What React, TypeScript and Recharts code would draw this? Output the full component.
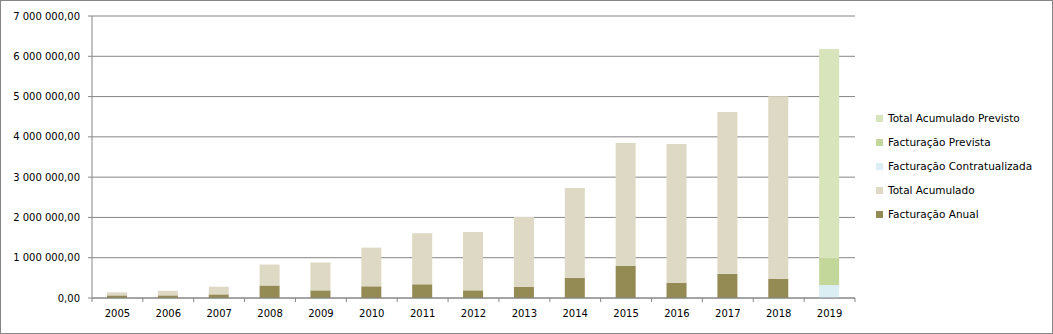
import React from 'react';
import { BarChart, Bar, XAxis, YAxis, CartesianGrid } from 'recharts';

const years = ['2005', '2006', '2007', '2008', '2009', '2010', '2011', '2012', '2013', '2014', '2015', '2016', '2017', '2018', '2019'];
const facturacaoAnual = [65000, 65000, 90000, 310000, 190000, 290000, 340000, 190000, 280000, 500000, 800000, 380000, 600000, 480000, 0];
const totalAcumulado = [75000, 115000, 190000, 520000, 690000, 960000, 1270000, 1450000, 1730000, 2230000, 3050000, 3440000, 4020000, 4530000, 0];
const facturacaoContratualizada = [0, 0, 0, 0, 0, 0, 0, 0, 0, 0, 0, 0, 0, 0, 320000];
const facturacaoPrevista = [0, 0, 0, 0, 0, 0, 0, 0, 0, 0, 0, 0, 0, 0, 670000];
const totalAcumuladoPrevisto = [0, 0, 0, 0, 0, 0, 0, 0, 0, 0, 0, 0, 0, 0, 5190000];
const yTicks = [0, 1000000, 2000000, 3000000, 4000000, 5000000, 6000000, 7000000];

const data = years.map((y, i) => ({
  year: y,
  anual: facturacaoAnual[i],
  acumulado: totalAcumulado[i],
  contratualizada: facturacaoContratualizada[i],
  prevista: facturacaoPrevista[i],
  previsto: totalAcumuladoPrevisto[i],
}));

const series = [
  { key: 'anual', name: 'Facturação Anual', color: '#948A54' },
  { key: 'acumulado', name: 'Total Acumulado', color: '#DDD9C4' },
  { key: 'contratualizada', name: 'Facturação Contratualizada', color: '#DAEEF3' },
  { key: 'prevista', name: 'Facturação Prevista', color: '#C4D79B' },
  { key: 'previsto', name: 'Total Acumulado Previsto', color: '#D8E4BC' },
];

const FONT = 'Tahoma, "DejaVu Sans", sans-serif';
const AXIS = '#868686';

const fmt = (v: number) => {
  const parts = Math.round(v).toString().replace(/\B(?=(\d{3})+(?!\d))/g, ' ');
  return parts + ',00';
};

const XTick = (props: any) => {
  const { x, y, payload, index } = props;
  const off = payload.offset || 0;
  const axisY = y - 12;
  return (
    <g>
      <line x1={x - off} x2={x - off} y1={axisY} y2={axisY + 4} stroke={AXIS} />
      {index === years.length - 1 && (
        <line x1={x + off} x2={x + off} y1={axisY} y2={axisY + 4} stroke={AXIS} />
      )}
      <text x={x} y={y} dy="0.71em" textAnchor="middle" fontSize={10} fontFamily={FONT} fill="#000">
        {payload.value}
      </text>
    </g>
  );
};

export default function App() {
  return (
    <div style={{ position: 'absolute', left: 0, top: 0, width: 1053, height: 334, boxSizing: 'border-box', border: '1px solid #868686', background: '#fff' }}>
      <div style={{ position: 'absolute', left: -1, top: -1 }}>
        <BarChart width={1053} height={334} data={data} margin={{ top: 16, right: 198, bottom: 6, left: 0 }} barSize={20}>
          <CartesianGrid horizontal vertical={false} stroke={AXIS} strokeDasharray="" />
          <XAxis dataKey="year" height={30} stroke={AXIS} tickLine={false} tickSize={4} tickMargin={8} tick={<XTick />} interval={0} />
          <YAxis
            width={92}
            domain={[0, 7000000]}
            ticks={yTicks}
            tickFormatter={fmt}
            stroke={AXIS}
            tickSize={4}
            tickMargin={8}
            tick={{ fontSize: 10, fontFamily: FONT, fill: '#000' }}
            interval={0}
          />
          {series.map((s) => (
            <Bar key={s.key} dataKey={s.key} name={s.name} stackId="a" fill={s.color} isAnimationActive={false} />
          ))}
        </BarChart>
      </div>
      <div style={{ position: 'absolute', left: 875, top: 105, fontFamily: FONT, fontSize: 10.5, color: '#000' }}>
        {[...series].reverse().map((s) => (
          <div key={s.key} style={{ display: 'flex', alignItems: 'center', height: 24 }}>
            <span style={{ display: 'inline-block', width: 7, height: 7, background: s.color, marginRight: 5 }} />
            <span>{s.name}</span>
          </div>
        ))}
      </div>
    </div>
  );
}
